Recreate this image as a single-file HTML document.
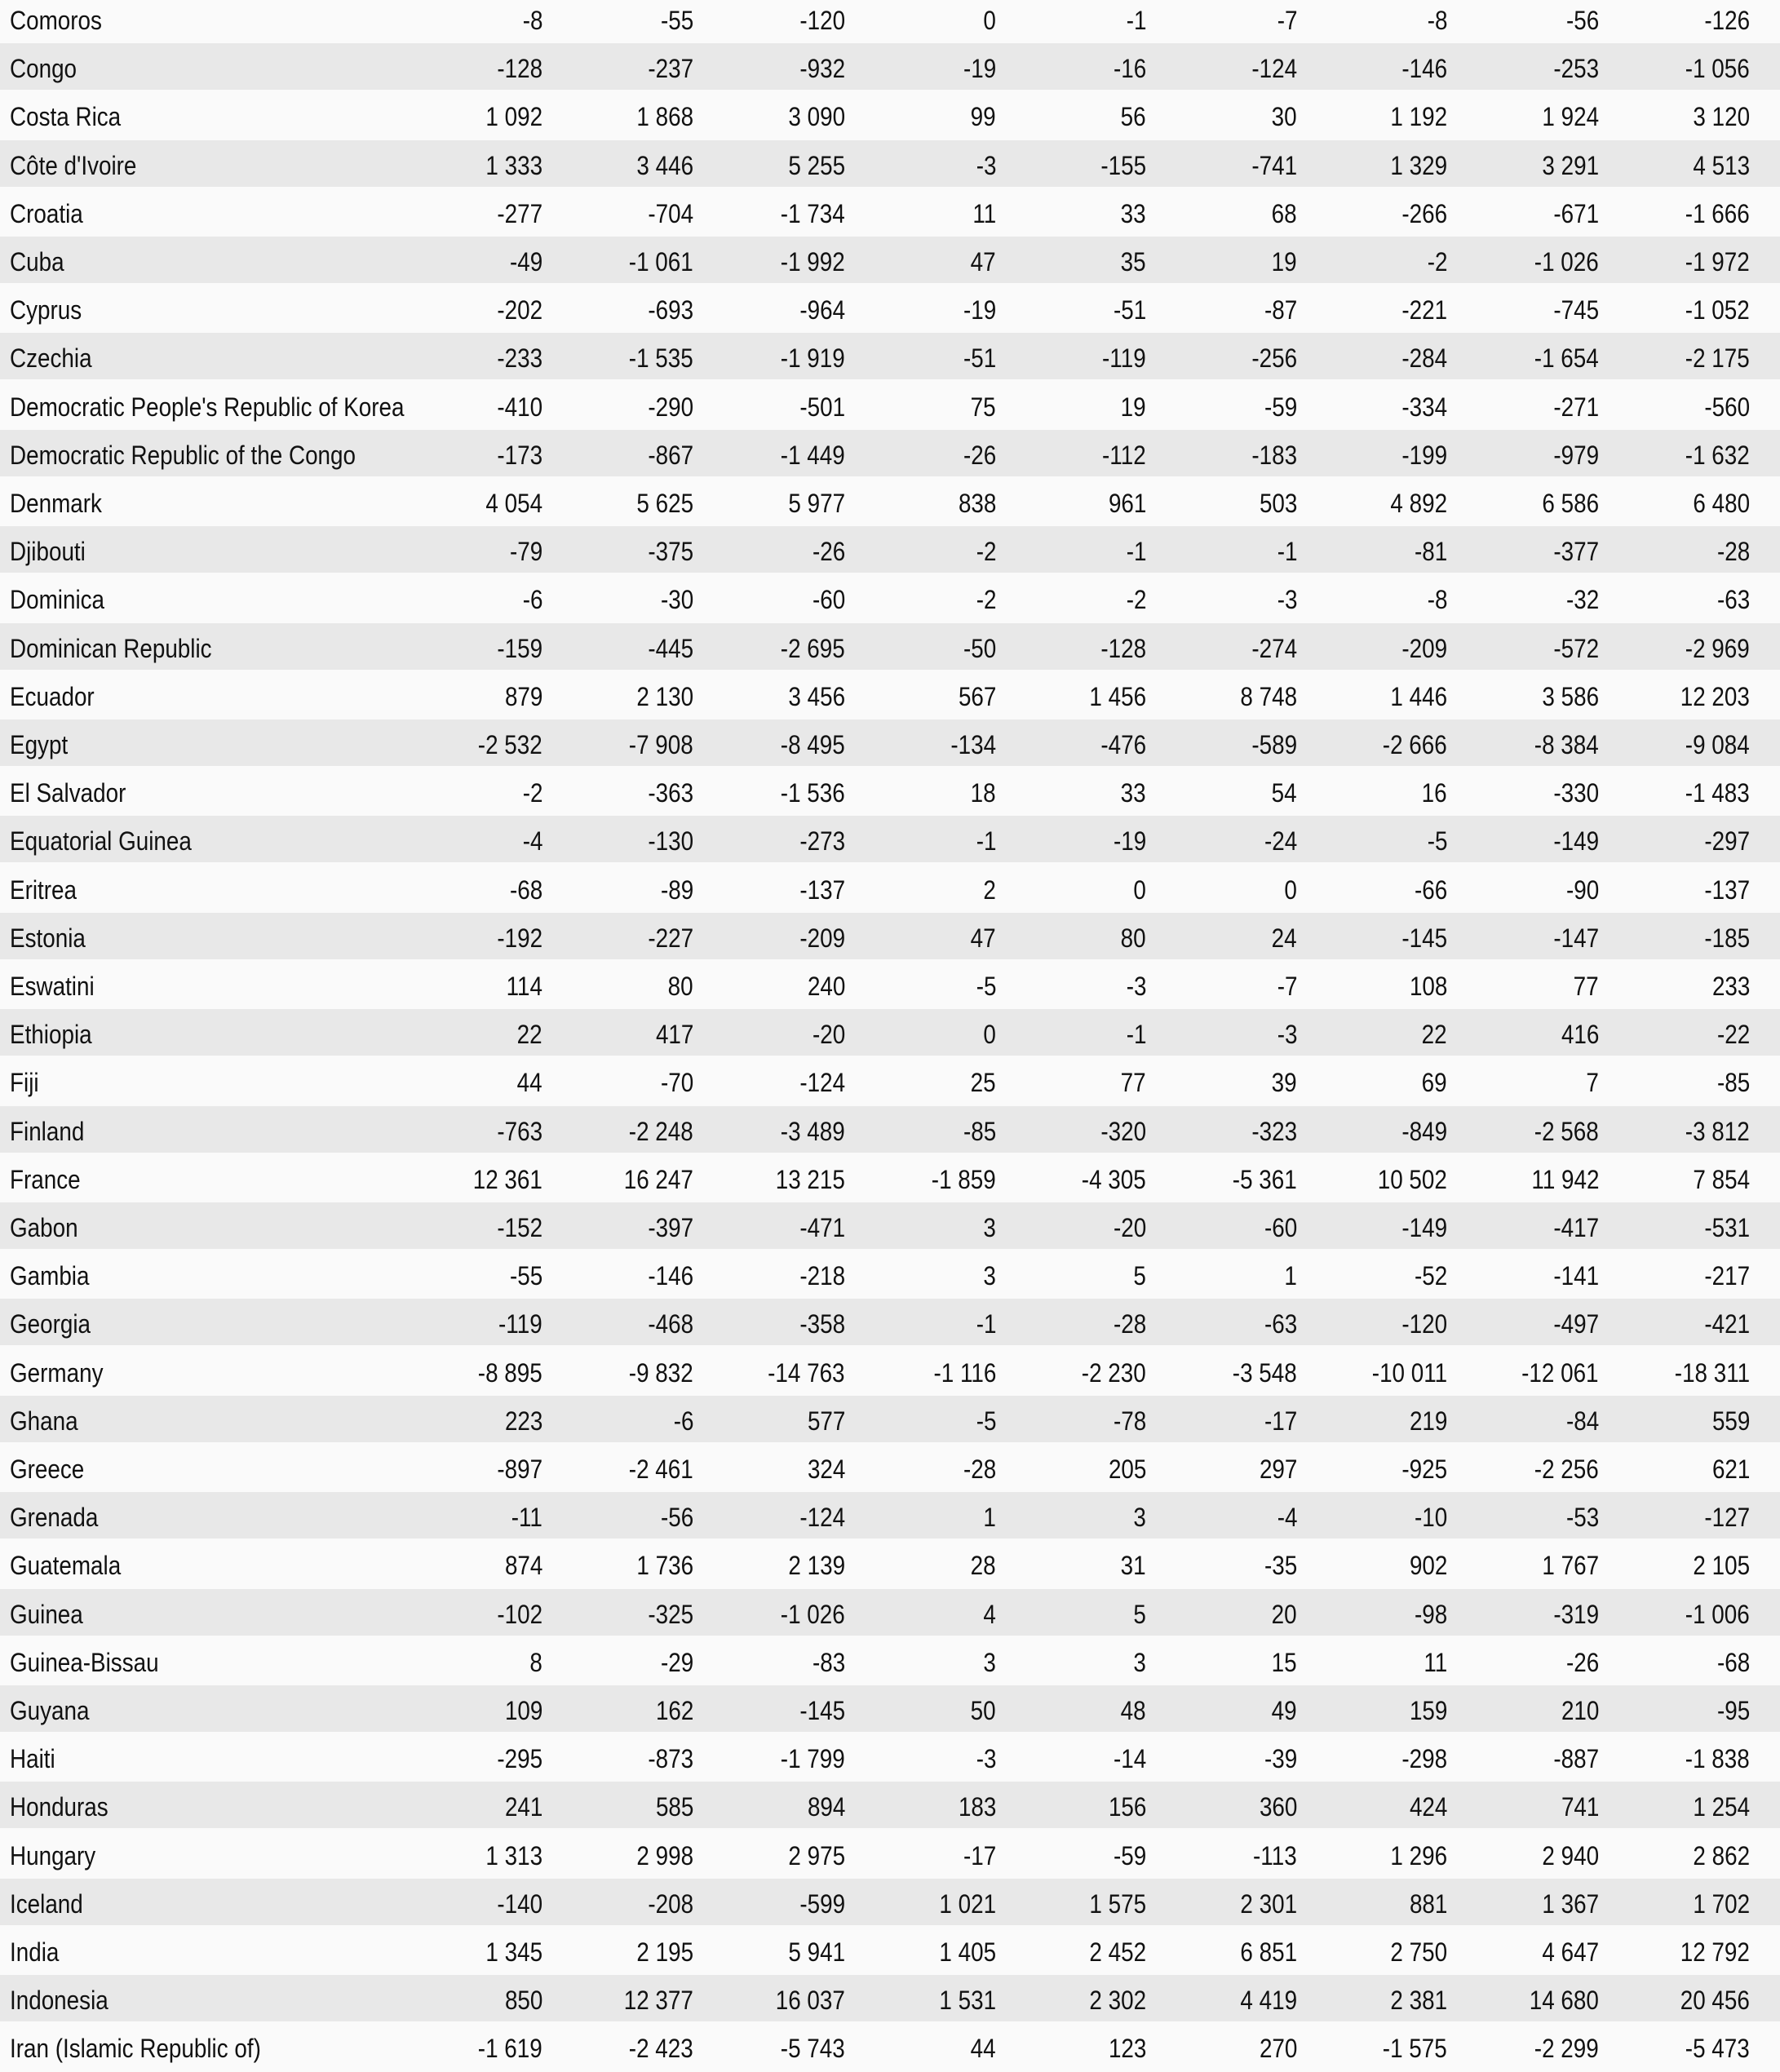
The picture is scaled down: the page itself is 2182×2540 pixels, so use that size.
<!DOCTYPE html>
<html><head><meta charset="utf-8"><style>
html,body{margin:0;padding:0;width:2182px;height:2540px;overflow:hidden;background:#fafafa;}
.r{position:absolute;left:0;width:2182px;height:57px;font-family:"Liberation Sans",sans-serif;font-size:32px;color:#111;}
.g{background:#e8e8e8;}
.r span{position:absolute;top:14px;white-space:nowrap;line-height:34px;transform:scaleX(0.87);transform-origin:right center;}
.r span.n{left:12px;transform-origin:left center;}
.c1{right:1517px}.c2{right:1332px}.c3{right:1146px}.c4{right:961px}.c5{right:777px}.c6{right:592px}.c7{right:408px}.c8{right:222px}.c9{right:37px}
</style></head><body>
<div class="r" style="top:-6px"><span class="n">Comoros</span><span class="c1">-8</span><span class="c2">-55</span><span class="c3">-120</span><span class="c4">0</span><span class="c5">-1</span><span class="c6">-7</span><span class="c7">-8</span><span class="c8">-56</span><span class="c9">-126</span></div>
<div class="r g" style="top:53px"><span class="n">Congo</span><span class="c1">-128</span><span class="c2">-237</span><span class="c3">-932</span><span class="c4">-19</span><span class="c5">-16</span><span class="c6">-124</span><span class="c7">-146</span><span class="c8">-253</span><span class="c9">-1 056</span></div>
<div class="r" style="top:112px"><span class="n">Costa Rica</span><span class="c1">1 092</span><span class="c2">1 868</span><span class="c3">3 090</span><span class="c4">99</span><span class="c5">56</span><span class="c6">30</span><span class="c7">1 192</span><span class="c8">1 924</span><span class="c9">3 120</span></div>
<div class="r g" style="top:172px"><span class="n">Côte d'Ivoire</span><span class="c1">1 333</span><span class="c2">3 446</span><span class="c3">5 255</span><span class="c4">-3</span><span class="c5">-155</span><span class="c6">-741</span><span class="c7">1 329</span><span class="c8">3 291</span><span class="c9">4 513</span></div>
<div class="r" style="top:231px"><span class="n">Croatia</span><span class="c1">-277</span><span class="c2">-704</span><span class="c3">-1 734</span><span class="c4">11</span><span class="c5">33</span><span class="c6">68</span><span class="c7">-266</span><span class="c8">-671</span><span class="c9">-1 666</span></div>
<div class="r g" style="top:290px"><span class="n">Cuba</span><span class="c1">-49</span><span class="c2">-1 061</span><span class="c3">-1 992</span><span class="c4">47</span><span class="c5">35</span><span class="c6">19</span><span class="c7">-2</span><span class="c8">-1 026</span><span class="c9">-1 972</span></div>
<div class="r" style="top:349px"><span class="n">Cyprus</span><span class="c1">-202</span><span class="c2">-693</span><span class="c3">-964</span><span class="c4">-19</span><span class="c5">-51</span><span class="c6">-87</span><span class="c7">-221</span><span class="c8">-745</span><span class="c9">-1 052</span></div>
<div class="r g" style="top:408px"><span class="n">Czechia</span><span class="c1">-233</span><span class="c2">-1 535</span><span class="c3">-1 919</span><span class="c4">-51</span><span class="c5">-119</span><span class="c6">-256</span><span class="c7">-284</span><span class="c8">-1 654</span><span class="c9">-2 175</span></div>
<div class="r" style="top:468px"><span class="n">Democratic People's Republic of Korea</span><span class="c1">-410</span><span class="c2">-290</span><span class="c3">-501</span><span class="c4">75</span><span class="c5">19</span><span class="c6">-59</span><span class="c7">-334</span><span class="c8">-271</span><span class="c9">-560</span></div>
<div class="r g" style="top:527px"><span class="n">Democratic Republic of the Congo</span><span class="c1">-173</span><span class="c2">-867</span><span class="c3">-1 449</span><span class="c4">-26</span><span class="c5">-112</span><span class="c6">-183</span><span class="c7">-199</span><span class="c8">-979</span><span class="c9">-1 632</span></div>
<div class="r" style="top:586px"><span class="n">Denmark</span><span class="c1">4 054</span><span class="c2">5 625</span><span class="c3">5 977</span><span class="c4">838</span><span class="c5">961</span><span class="c6">503</span><span class="c7">4 892</span><span class="c8">6 586</span><span class="c9">6 480</span></div>
<div class="r g" style="top:645px"><span class="n">Djibouti</span><span class="c1">-79</span><span class="c2">-375</span><span class="c3">-26</span><span class="c4">-2</span><span class="c5">-1</span><span class="c6">-1</span><span class="c7">-81</span><span class="c8">-377</span><span class="c9">-28</span></div>
<div class="r" style="top:704px"><span class="n">Dominica</span><span class="c1">-6</span><span class="c2">-30</span><span class="c3">-60</span><span class="c4">-2</span><span class="c5">-2</span><span class="c6">-3</span><span class="c7">-8</span><span class="c8">-32</span><span class="c9">-63</span></div>
<div class="r g" style="top:764px"><span class="n">Dominican Republic</span><span class="c1">-159</span><span class="c2">-445</span><span class="c3">-2 695</span><span class="c4">-50</span><span class="c5">-128</span><span class="c6">-274</span><span class="c7">-209</span><span class="c8">-572</span><span class="c9">-2 969</span></div>
<div class="r" style="top:823px"><span class="n">Ecuador</span><span class="c1">879</span><span class="c2">2 130</span><span class="c3">3 456</span><span class="c4">567</span><span class="c5">1 456</span><span class="c6">8 748</span><span class="c7">1 446</span><span class="c8">3 586</span><span class="c9">12 203</span></div>
<div class="r g" style="top:882px"><span class="n">Egypt</span><span class="c1">-2 532</span><span class="c2">-7 908</span><span class="c3">-8 495</span><span class="c4">-134</span><span class="c5">-476</span><span class="c6">-589</span><span class="c7">-2 666</span><span class="c8">-8 384</span><span class="c9">-9 084</span></div>
<div class="r" style="top:941px"><span class="n">El Salvador</span><span class="c1">-2</span><span class="c2">-363</span><span class="c3">-1 536</span><span class="c4">18</span><span class="c5">33</span><span class="c6">54</span><span class="c7">16</span><span class="c8">-330</span><span class="c9">-1 483</span></div>
<div class="r g" style="top:1000px"><span class="n">Equatorial Guinea</span><span class="c1">-4</span><span class="c2">-130</span><span class="c3">-273</span><span class="c4">-1</span><span class="c5">-19</span><span class="c6">-24</span><span class="c7">-5</span><span class="c8">-149</span><span class="c9">-297</span></div>
<div class="r" style="top:1060px"><span class="n">Eritrea</span><span class="c1">-68</span><span class="c2">-89</span><span class="c3">-137</span><span class="c4">2</span><span class="c5">0</span><span class="c6">0</span><span class="c7">-66</span><span class="c8">-90</span><span class="c9">-137</span></div>
<div class="r g" style="top:1119px"><span class="n">Estonia</span><span class="c1">-192</span><span class="c2">-227</span><span class="c3">-209</span><span class="c4">47</span><span class="c5">80</span><span class="c6">24</span><span class="c7">-145</span><span class="c8">-147</span><span class="c9">-185</span></div>
<div class="r" style="top:1178px"><span class="n">Eswatini</span><span class="c1">114</span><span class="c2">80</span><span class="c3">240</span><span class="c4">-5</span><span class="c5">-3</span><span class="c6">-7</span><span class="c7">108</span><span class="c8">77</span><span class="c9">233</span></div>
<div class="r g" style="top:1237px"><span class="n">Ethiopia</span><span class="c1">22</span><span class="c2">417</span><span class="c3">-20</span><span class="c4">0</span><span class="c5">-1</span><span class="c6">-3</span><span class="c7">22</span><span class="c8">416</span><span class="c9">-22</span></div>
<div class="r" style="top:1296px"><span class="n">Fiji</span><span class="c1">44</span><span class="c2">-70</span><span class="c3">-124</span><span class="c4">25</span><span class="c5">77</span><span class="c6">39</span><span class="c7">69</span><span class="c8">7</span><span class="c9">-85</span></div>
<div class="r g" style="top:1356px"><span class="n">Finland</span><span class="c1">-763</span><span class="c2">-2 248</span><span class="c3">-3 489</span><span class="c4">-85</span><span class="c5">-320</span><span class="c6">-323</span><span class="c7">-849</span><span class="c8">-2 568</span><span class="c9">-3 812</span></div>
<div class="r" style="top:1415px"><span class="n">France</span><span class="c1">12 361</span><span class="c2">16 247</span><span class="c3">13 215</span><span class="c4">-1 859</span><span class="c5">-4 305</span><span class="c6">-5 361</span><span class="c7">10 502</span><span class="c8">11 942</span><span class="c9">7 854</span></div>
<div class="r g" style="top:1474px"><span class="n">Gabon</span><span class="c1">-152</span><span class="c2">-397</span><span class="c3">-471</span><span class="c4">3</span><span class="c5">-20</span><span class="c6">-60</span><span class="c7">-149</span><span class="c8">-417</span><span class="c9">-531</span></div>
<div class="r" style="top:1533px"><span class="n">Gambia</span><span class="c1">-55</span><span class="c2">-146</span><span class="c3">-218</span><span class="c4">3</span><span class="c5">5</span><span class="c6">1</span><span class="c7">-52</span><span class="c8">-141</span><span class="c9">-217</span></div>
<div class="r g" style="top:1592px"><span class="n">Georgia</span><span class="c1">-119</span><span class="c2">-468</span><span class="c3">-358</span><span class="c4">-1</span><span class="c5">-28</span><span class="c6">-63</span><span class="c7">-120</span><span class="c8">-497</span><span class="c9">-421</span></div>
<div class="r" style="top:1652px"><span class="n">Germany</span><span class="c1">-8 895</span><span class="c2">-9 832</span><span class="c3">-14 763</span><span class="c4">-1 116</span><span class="c5">-2 230</span><span class="c6">-3 548</span><span class="c7">-10 011</span><span class="c8">-12 061</span><span class="c9">-18 311</span></div>
<div class="r g" style="top:1711px"><span class="n">Ghana</span><span class="c1">223</span><span class="c2">-6</span><span class="c3">577</span><span class="c4">-5</span><span class="c5">-78</span><span class="c6">-17</span><span class="c7">219</span><span class="c8">-84</span><span class="c9">559</span></div>
<div class="r" style="top:1770px"><span class="n">Greece</span><span class="c1">-897</span><span class="c2">-2 461</span><span class="c3">324</span><span class="c4">-28</span><span class="c5">205</span><span class="c6">297</span><span class="c7">-925</span><span class="c8">-2 256</span><span class="c9">621</span></div>
<div class="r g" style="top:1829px"><span class="n">Grenada</span><span class="c1">-11</span><span class="c2">-56</span><span class="c3">-124</span><span class="c4">1</span><span class="c5">3</span><span class="c6">-4</span><span class="c7">-10</span><span class="c8">-53</span><span class="c9">-127</span></div>
<div class="r" style="top:1888px"><span class="n">Guatemala</span><span class="c1">874</span><span class="c2">1 736</span><span class="c3">2 139</span><span class="c4">28</span><span class="c5">31</span><span class="c6">-35</span><span class="c7">902</span><span class="c8">1 767</span><span class="c9">2 105</span></div>
<div class="r g" style="top:1948px"><span class="n">Guinea</span><span class="c1">-102</span><span class="c2">-325</span><span class="c3">-1 026</span><span class="c4">4</span><span class="c5">5</span><span class="c6">20</span><span class="c7">-98</span><span class="c8">-319</span><span class="c9">-1 006</span></div>
<div class="r" style="top:2007px"><span class="n">Guinea-Bissau</span><span class="c1">8</span><span class="c2">-29</span><span class="c3">-83</span><span class="c4">3</span><span class="c5">3</span><span class="c6">15</span><span class="c7">11</span><span class="c8">-26</span><span class="c9">-68</span></div>
<div class="r g" style="top:2066px"><span class="n">Guyana</span><span class="c1">109</span><span class="c2">162</span><span class="c3">-145</span><span class="c4">50</span><span class="c5">48</span><span class="c6">49</span><span class="c7">159</span><span class="c8">210</span><span class="c9">-95</span></div>
<div class="r" style="top:2125px"><span class="n">Haiti</span><span class="c1">-295</span><span class="c2">-873</span><span class="c3">-1 799</span><span class="c4">-3</span><span class="c5">-14</span><span class="c6">-39</span><span class="c7">-298</span><span class="c8">-887</span><span class="c9">-1 838</span></div>
<div class="r g" style="top:2184px"><span class="n">Honduras</span><span class="c1">241</span><span class="c2">585</span><span class="c3">894</span><span class="c4">183</span><span class="c5">156</span><span class="c6">360</span><span class="c7">424</span><span class="c8">741</span><span class="c9">1 254</span></div>
<div class="r" style="top:2244px"><span class="n">Hungary</span><span class="c1">1 313</span><span class="c2">2 998</span><span class="c3">2 975</span><span class="c4">-17</span><span class="c5">-59</span><span class="c6">-113</span><span class="c7">1 296</span><span class="c8">2 940</span><span class="c9">2 862</span></div>
<div class="r g" style="top:2303px"><span class="n">Iceland</span><span class="c1">-140</span><span class="c2">-208</span><span class="c3">-599</span><span class="c4">1 021</span><span class="c5">1 575</span><span class="c6">2 301</span><span class="c7">881</span><span class="c8">1 367</span><span class="c9">1 702</span></div>
<div class="r" style="top:2362px"><span class="n">India</span><span class="c1">1 345</span><span class="c2">2 195</span><span class="c3">5 941</span><span class="c4">1 405</span><span class="c5">2 452</span><span class="c6">6 851</span><span class="c7">2 750</span><span class="c8">4 647</span><span class="c9">12 792</span></div>
<div class="r g" style="top:2421px"><span class="n">Indonesia</span><span class="c1">850</span><span class="c2">12 377</span><span class="c3">16 037</span><span class="c4">1 531</span><span class="c5">2 302</span><span class="c6">4 419</span><span class="c7">2 381</span><span class="c8">14 680</span><span class="c9">20 456</span></div>
<div class="r" style="top:2480px"><span class="n">Iran (Islamic Republic of)</span><span class="c1">-1 619</span><span class="c2">-2 423</span><span class="c3">-5 743</span><span class="c4">44</span><span class="c5">123</span><span class="c6">270</span><span class="c7">-1 575</span><span class="c8">-2 299</span><span class="c9">-5 473</span></div>
</body></html>
